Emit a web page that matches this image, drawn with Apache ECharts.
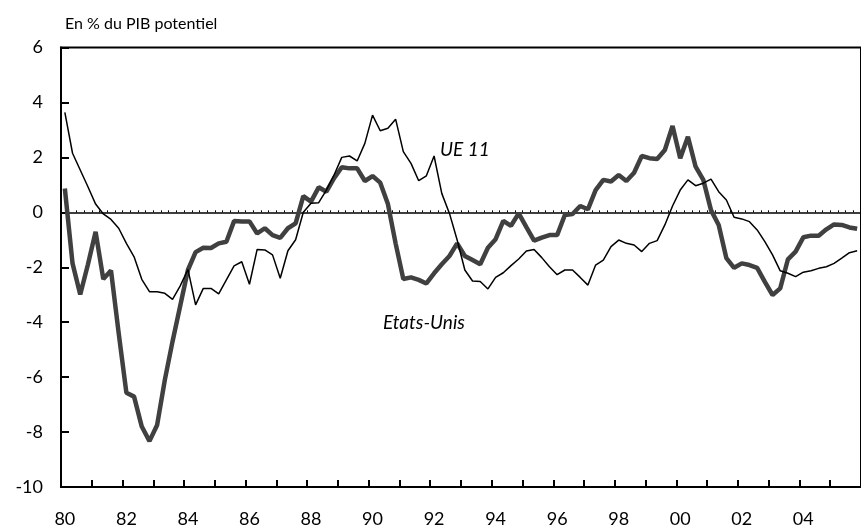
<!DOCTYPE html>
<html>
<head>
<meta charset="utf-8">
<script src="https://cdn.jsdelivr.net/npm/echarts@6/dist/echarts.min.js"></script>
<style>
html,body{margin:0;padding:0;background:#fff;}
#chart{width:861px;height:530px;}
</style>
</head>
<body>
<div id="chart"></div>
<script>
// Quarterly data, 1980 T1 .. 2005 T4
var years = [1980,1981,1982,1983,1984,1985,1986,1987,1988,1989,1990,1991,1992,1993,1994,1995,1996,1997,1998,1999,2000,2001,2002,2003,2004,2005];
var quarters = ['T1','T2','T3','T4'];

var etatsUnis = [
  0.87,-1.86,-2.99,-1.9, -0.71,-2.43,-2.12,-4.4, -6.57,-6.71,-7.8,-8.33,
  -7.74,-6.1,-4.7,-3.4, -2.1,-1.45,-1.29,-1.3, -1.13,-1.07,-0.32,-0.33,
  -0.33,-0.77,-0.58,-0.83, -0.93,-0.58,-0.4,0.59, 0.39,0.91,0.75,1.24,
  1.64,1.6,1.6,1.14, 1.32,1.08,0.3,-1.13, -2.43,-2.37,-2.46,-2.59,
  -2.22,-1.89,-1.59,-1.13, -1.59,-1.74,-1.89,-1.29, -0.98,-0.31,-0.49,-0.04,
  -0.54,-1.03,-0.92,-0.83, -0.83,-0.1,-0.06,0.23, 0.11,0.81,1.18,1.12,
  1.36,1.14,1.44,2.05, 1.97,1.94,2.27,3.14, 1.97,2.75,1.66,1.18,
  0.08,-0.46,-1.67,-2.02, -1.86,-1.92,-2.02,-2.53, -3.01,-2.77,-1.71,-1.43,
  -0.91,-0.85,-0.85,-0.62, -0.44,-0.46,-0.55,-0.6
];

var ue11 = [
  3.64,2.15,1.54,0.93, 0.3,-0.06,-0.26,-0.58, -1.13,-1.62,-2.44,-2.89,
  -2.89,-2.95,-3.17,-2.68, -2.08,-3.37,-2.77,-2.77, -2.97,-2.46,-1.95,-1.8,
  -2.62,-1.35,-1.37,-1.55, -2.4,-1.4,-1.0,0.0, 0.33,0.35,0.81,1.36,
  2.0,2.05,1.87,2.51, 3.54,2.97,3.06,3.39, 2.21,1.78,1.15,1.33,
  2.05,0.69,-0.04,-1.01, -2.1,-2.5,-2.52,-2.79, -2.37,-2.2,-1.94,-1.7,
  -1.41,-1.35,-1.65,-1.98, -2.27,-2.1,-2.1,-2.37, -2.65,-1.92,-1.74,-1.25,
  -1.01,-1.13,-1.19,-1.43, -1.13,-1.03,-0.46,0.23, 0.81,1.18,0.97,1.06,
  1.21,0.75,0.45,-0.18, -0.24,-0.34,-0.64,-1.07, -1.55,-2.13,-2.22,-2.34,
  -2.18,-2.13,-2.04,-1.98, -1.86,-1.67,-1.47,-1.4
];

var yTicks = {min: -10, max: 6, interval: 2};
var titleText = 'En % du PIB potentiel';
var labelUE = 'UE 11';
var labelUS = 'Etats-Unis';

var categories = [];
years.forEach(function(y){ quarters.forEach(function(q){ categories.push(y + ' ' + q); }); });

var FONT = 'Lato, "Open Sans", sans-serif';
var chart = echarts.init(document.getElementById('chart'), null, {renderer: 'canvas'});
chart.setOption({
  animation: false,
  backgroundColor: '#fff',
  grid: {left: 61, top: 47.5, width: 810, height: 439.5, show: true, borderColor: '#000', borderWidth: 2, backgroundColor: 'transparent'},
  xAxis: [{
    type: 'category',
    data: categories,
    boundaryGap: true,
    position: 'bottom',
    axisLine: {onZero: false, lineStyle: {color: '#000', width: 2}},
    axisTick: {show: true, inside: true, interval: 3, length: 7, lineStyle: {color: '#000', width: 2}},
    axisLabel: {interval: 7, margin: 23, fontSize: 18, color: '#000', fontFamily: FONT,
      formatter: function(v){ return v.slice(2,4); }},
    splitLine: {show: false}
  }, {
    type: 'category',
    data: categories,
    boundaryGap: true,
    position: 'top',
    axisLine: {onZero: true, lineStyle: {color: '#000', width: 1.5}},
    axisTick: {show: true, interval: 0, length: 2, lineStyle: {color: '#000', width: 1}},
    axisLabel: {show: false},
    splitLine: {show: false}
  }],
  yAxis: {
    type: 'value',
    min: yTicks.min, max: yTicks.max, interval: yTicks.interval,
    axisLine: {show: true, lineStyle: {color: '#000', width: 2}},
    axisTick: {show: true, inside: true, length: 8, lineStyle: {color: '#000', width: 2}},
    axisLabel: {margin: 18, fontSize: 18, color: '#000', fontFamily: FONT},
    splitLine: {show: false}
  },
  series: [{
    name: labelUS, type: 'line', data: etatsUnis, xAxisIndex: 0,
    showSymbol: false, symbol: 'none',
    lineStyle: {color: '#404040', width: 4.5}, z: 3
  }, {
    name: labelUE, type: 'line', data: ue11, xAxisIndex: 0,
    showSymbol: false, symbol: 'none',
    lineStyle: {color: '#000', width: 1.5}, z: 4
  }],
  graphic: [
    {type: 'text', left: 65, top: 16, style: {text: titleText, fontSize: 16, fill: '#000', fontFamily: FONT}},
    {type: 'text', left: 440, top: 140, style: {text: labelUE, fontSize: 19, fontStyle: 'italic', fill: '#000', fontFamily: FONT}},
    {type: 'text', left: 383, top: 313, style: {text: labelUS, fontSize: 19, fontStyle: 'italic', fill: '#000', fontFamily: FONT}}
  ]
});
</script>
</body>
</html>
